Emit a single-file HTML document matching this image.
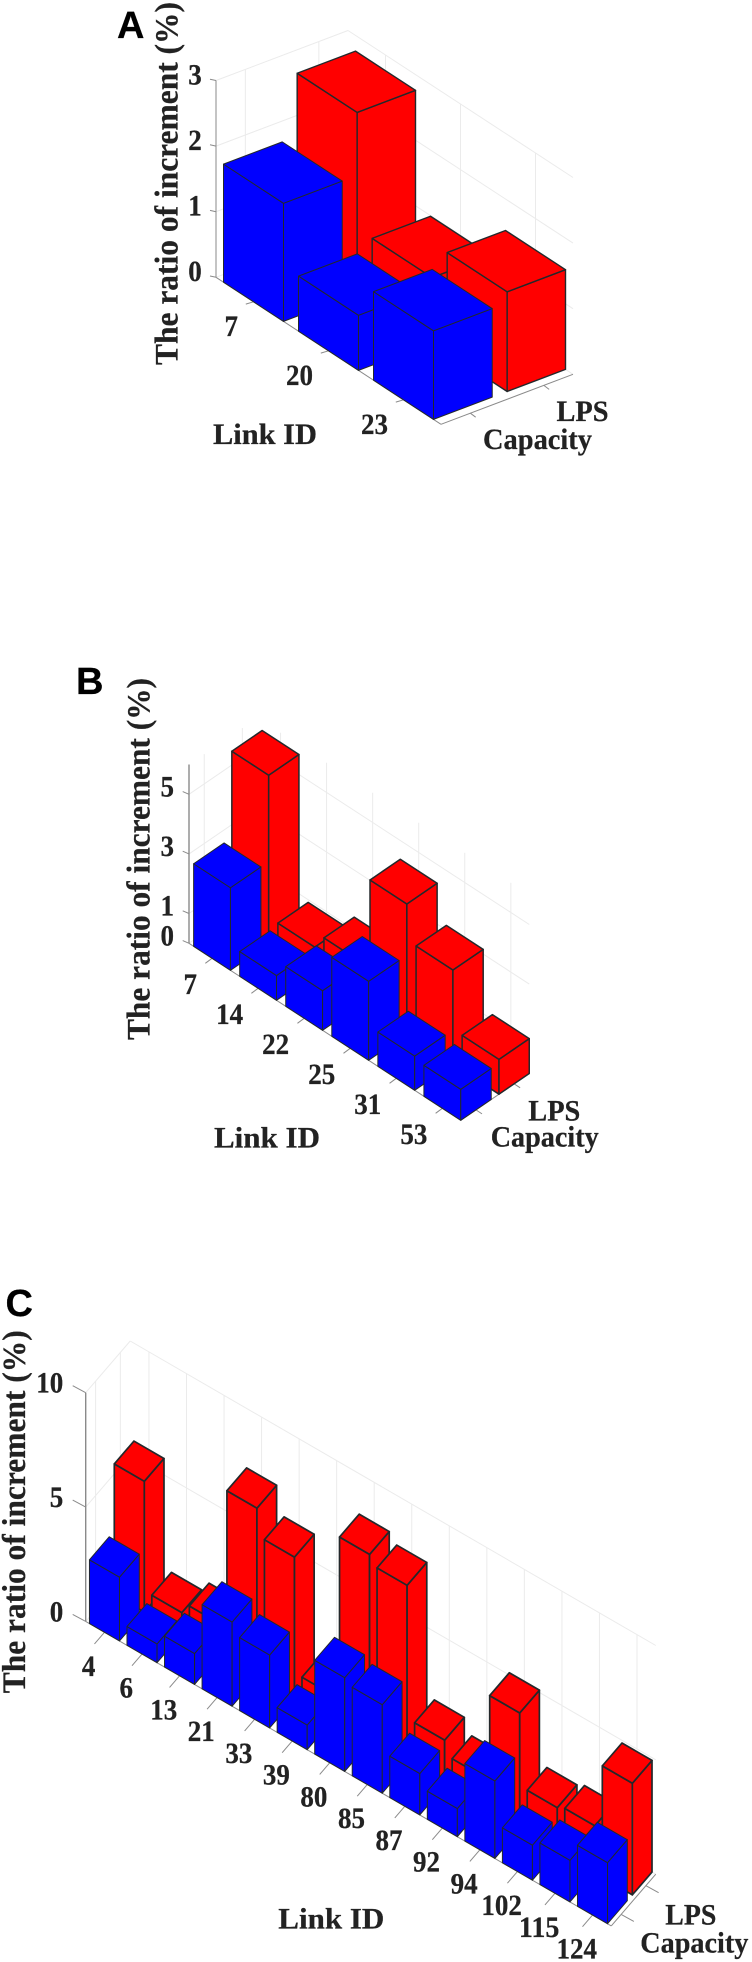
<!DOCTYPE html>
<html lang="en">
<head>
<meta charset="utf-8">
<title>The ratio of increment by Link ID</title>
<style>
html,body{margin:0;padding:0;background:#fff;width:752px;height:1962px;overflow:hidden}
svg{display:block}
text{font-family:"Liberation Serif",serif;font-weight:bold;fill:#222;stroke:#222;stroke-width:0.25px}
.letter{font-family:"Liberation Sans",sans-serif;font-size:38px;fill:#000;stroke:#000}
.title{font-size:33px}
.axis-name{font-size:30px}
.tick{font-size:29.5px}
</style>
</head>
<body>
<svg id="figure" xmlns="http://www.w3.org/2000/svg" width="752" height="1962" viewBox="0 0 752 1962">
  <rect width="752" height="1962" fill="#fff"/>

  <g id="panel-a"></g>
  <text class="letter" x="117" y="38">A</text>
  <text class="title" transform="translate(177.5,365) rotate(-90)" textLength="363" lengthAdjust="spacingAndGlyphs">The ratio of increment (%)</text>
  <text class="axis-name" x="213" y="444" textLength="104" lengthAdjust="spacingAndGlyphs">Link ID</text>
  <text class="axis-name" x="556.5" y="421" textLength="52" lengthAdjust="spacingAndGlyphs">LPS</text>
  <text class="axis-name" x="483" y="449" textLength="109" lengthAdjust="spacingAndGlyphs">Capacity</text>

  <g id="panel-b"></g>
  <text class="letter" x="76" y="694">B</text>
  <text class="title" transform="translate(149.3,1040) rotate(-90)" textLength="362" lengthAdjust="spacingAndGlyphs">The ratio of increment (%)</text>
  <text class="axis-name" x="214" y="1147.7" textLength="106" lengthAdjust="spacingAndGlyphs">Link ID</text>
  <text class="axis-name" x="528.3" y="1120.7" textLength="52" lengthAdjust="spacingAndGlyphs">LPS</text>
  <text class="axis-name" x="490.7" y="1146.7" textLength="108" lengthAdjust="spacingAndGlyphs">Capacity</text>

  <g id="panel-c"></g>
  <text class="letter" x="5.5" y="1316">C</text>
  <text class="title" transform="translate(25,1693.3) rotate(-90)" textLength="363" lengthAdjust="spacingAndGlyphs">The ratio of increment (%)</text>
  <text class="axis-name" x="278.3" y="1928.3" textLength="106" lengthAdjust="spacingAndGlyphs">Link ID</text>
  <text class="axis-name" x="665.3" y="1924.3" textLength="51" lengthAdjust="spacingAndGlyphs">LPS</text>
  <text class="axis-name" x="640.3" y="1952.7" textLength="108" lengthAdjust="spacingAndGlyphs">Capacity</text>
</svg>

<script>
// Panel A data
const linkIdsA = ["7", "20", "23"];
const capacityValuesA = [1.80, 0.84, 1.35];
const lpsValuesA = [2.76, 0.99, 1.52];
const yTicksA = [0, 1, 2, 3];

// Panel B data
const linkIdsB = ["7", "14", "22", "25", "31", "53"];
const capacityValuesB = [2.77, 0.83, 1.33, 2.65, 1.15, 1.04];
const lpsValuesB = [5.67, 0.91, 1.42, 4.37, 3.16, 1.17];
const yTicksB = [0, 1, 3, 5];

// Panel C data
const linkIdsC = ["4", "6", "13", "21", "33", "39", "80", "85", "87", "92", "94", "102", "115", "124"];
const capacityValuesC = [2.79, 0.82, 1.35, 3.68, 3.19, 1.08, 4.10, 3.87, 1.81, 1.23, 3.39, 1.53, 1.82, 2.67];
const lpsValuesC = [5.72, 0.93, 1.41, 7.40, 6.21, 1.15, 8.23, 7.83, 2.01, 1.39, 5.10, 1.91, 2.07, 4.88];
const yTicksC = [0, 5, 10];

const SVG_NS = "http://www.w3.org/2000/svg";
const BLUE_DEPTH = [0, 0.445];
const RED_DEPTH = [0.558, 1];

function make(tag, parent, attrs) {
  const el = document.createElementNS(SVG_NS, tag);
  Object.keys(attrs).forEach(function (k) { el.setAttribute(k, attrs[k]); });
  parent.appendChild(el);
  return el;
}

function drawPanel(cfg) {
  const root = document.getElementById(cfg.id);
  const n = cfg.links.length;

  // 3D axis function: link = category units, depth = 0..1, val = data units
  function P(link, depth, val) {
    return [
      cfg.ox + link * cfg.lx + depth * cfg.dx,
      cfg.oy + link * cfg.ly + depth * cfg.dy - val * cfg.unit
    ];
  }
  function line(a, b, stroke, width, name) {
    const el = make("line", root, { x1: a[0], y1: a[1], x2: b[0], y2: b[1], stroke: stroke, "stroke-width": width });
    
    
    return el;
  }
  const GRID = "#ebebeb";
  const AXIS = "#8a8a8a";
  const depthCenters = [(BLUE_DEPTH[0] + BLUE_DEPTH[1]) / 2, (RED_DEPTH[0] + RED_DEPTH[1]) / 2];

  // wall gridlines
  cfg.yTicks.forEach(function (t) {
    line(P(0, 0, t), P(0, 1, t), GRID, 1, "left-wall-gridline");
    line(P(0, 1, t), P(cfg.linkEnd, 1, t), GRID, 1, "back-wall-gridline");
  });
  depthCenters.forEach(function (d) {
    line(P(0, d, 0), P(0, d, cfg.yTop), GRID, 1, "left-wall-vertical-gridline");
  });
  for (let i = 0; i < n; i++) {
    line(P(i + 0.5, 1, 0), P(i + 0.5, 1, cfg.yTop), GRID, 1, "back-wall-vertical-gridline");
  }

  // axes
  line(P(0, 0, 0), P(0, 0, cfg.yTop), AXIS, cfg.axisWidth, "y-axis-line");
  line(P(0, 0, 0), P(cfg.linkEnd, 0, 0), AXIS, 1, "link-axis-line");
  line(P(cfg.linkEnd, 0, 0), P(cfg.linkEnd, 1, 0), AXIS, 1, "capacity-axis-line");

  // y ticks and labels
  cfg.yTicks.forEach(function (t) {
    const a = P(0, 0, t);
    line(a, [a[0] + cfg.yTick[0], a[1] + cfg.yTick[1]], AXIS, 1, "y-tick");
    const lab = make("text", root, { x: cfg.yLabelX, y: a[1] + cfg.yLabelDy, "class": "tick", "text-anchor": "end", textLength: 13.5 * String(t).length, lengthAdjust: "spacingAndGlyphs" });
    
    
    lab.textContent = String(t);
  });

  // depth ticks
  depthCenters.forEach(function (d) {
    const a = P(cfg.linkEnd, d, 0);
    line(a, [a[0] + cfg.depthTick[0], a[1] + cfg.depthTick[1]], AXIS, 1, "capacity-axis-tick");
  });

  // link ticks and labels
  cfg.links.forEach(function (id, i) {
    const a = P(i + 0.5, 0, 0);
    line(a, [a[0] + cfg.linkTick[0], a[1] + cfg.linkTick[1]], AXIS, 1, "link-tick");
    const lab = make("text", root, { x: a[0] + cfg.labelOffset[0], y: a[1] + cfg.labelOffset[1], "class": "tick", "text-anchor": cfg.labelAnchor, textLength: 13.5 * id.length, lengthAdjust: "spacingAndGlyphs" });
    
    
    lab.textContent = id;
  });

  function bar(i, value, depthRange, fill, strokeWidth, name) {
    const l0 = i + 0.1, l1 = i + 0.9, d0 = depthRange[0], d1 = depthRange[1];
    const g = make("g", root, { fill: fill, stroke: "#23282b", "stroke-width": strokeWidth, "stroke-linejoin": "round" });
    
    
    const faces = [
      [P(l0, d0, 0), P(l1, d0, 0), P(l1, d0, value), P(l0, d0, value)],
      [P(l1, d0, 0), P(l1, d1, 0), P(l1, d1, value), P(l1, d0, value)],
      [P(l0, d0, value), P(l1, d0, value), P(l1, d1, value), P(l0, d1, value)]
    ];
    faces.forEach(function (f) {
      const poly = make("polygon", g, { points: f.map(function (p) { return p[0].toFixed(2) + "," + p[1].toFixed(2); }).join(" ") });
      
      
    });
  }

  cfg.red.forEach(function (v, i) {
    bar(i, v, RED_DEPTH, "#ff0000", cfg.redStroke, "lps-bar-" + cfg.links[i]);
  });
  cfg.blue.forEach(function (v, i) {
    bar(i, v, BLUE_DEPTH, "#0000ff", 1, "capacity-bar-" + cfg.links[i]);
  });
}

drawPanel({
  id: "panel-a", links: linkIdsA, blue: capacityValuesA, red: lpsValuesA, yTicks: yTicksA, yTop: 3,
  ox: 216, oy: 277.3, lx: 75, ly: 49, dx: 132, dy: -50, unit: 65.6, linkEnd: 3,
  axisWidth: 1, redStroke: 1.4, yTick: [-6, -1.3], yLabelX: 201.7, yLabelDy: 3.8,
  depthTick: [5.3, 4], linkTick: [-7.7, 2.3], labelOffset: [-15.5, 34.2], labelAnchor: "end"
});
drawPanel({
  id: "panel-b", links: linkIdsB, blue: capacityValuesB, red: lpsValuesB, yTicks: yTicksB, yTop: 6,
  ox: 189, oy: 943.3, lx: 46.06, ly: 30, dx: 68.5, dy: -46.8, unit: 29.8, linkEnd: 5.9,
  axisWidth: 1.4, redStroke: 1.5, yTick: [-6.3, -2.7], yLabelX: 174, yLabelDy: 2.2,
  depthTick: [6, 4], linkTick: [-6.7, 5], labelOffset: [-15, 35.7], labelAnchor: "end"
});
drawPanel({
  id: "panel-c", links: linkIdsC, blue: capacityValuesC, red: lpsValuesC, yTicks: yTicksC, yTop: 10,
  ox: 85.7, oy: 1621.4, lx: 37.54, ly: 21.75, dx: 44.5, dy: -51.7, unit: 22.87, linkEnd: 14,
  axisWidth: 1.4, redStroke: 1.7, yTick: [-13, -7], yLabelX: 63.3, yLabelDy: 0,
  depthTick: [12.7, 7], linkTick: [-10, 11.7], labelOffset: [-15.8, 43.5], labelAnchor: "middle"
});
</script>
</body>
</html>
